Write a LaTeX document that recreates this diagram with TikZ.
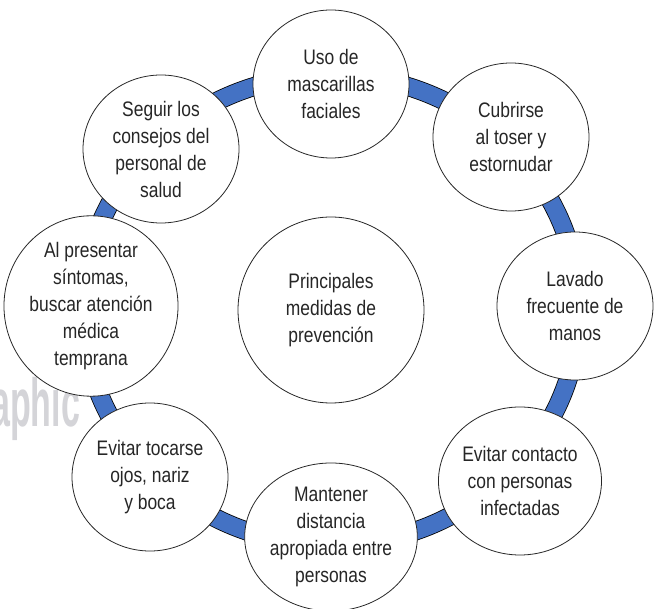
\documentclass[tikz,border=0pt]{standalone}
\usepackage{fontspec}
\setmainfont{Liberation Sans}[FakeStretch=0.83]
\newfontfamily\marcafont{Liberation Sans}[FakeStretch=0.5]
\usepackage{xcolor}
\usetikzlibrary{shapes.geometric}
\definecolor{anillo}{HTML}{4472C4}
\definecolor{texto}{HTML}{262626}
\definecolor{marca}{HTML}{D4D4D8}

\begin{document}
\begin{tikzpicture}[x=1pt,y=-1pt,
    medida/.style={ellipse,draw=texto,line width=0.8pt,fill=white,minimum width=156pt,minimum height=148pt,inner sep=0pt,align=center,text=texto,font=\fontsize{21}{27}\selectfont},
    centro/.style={circle,draw=texto,line width=0.8pt,fill=white,minimum size=186pt,inner sep=0pt,align=center,text=texto,font=\fontsize{21}{27}\selectfont}]
    \useasboundingbox (0,0) rectangle (654,609);
    \clip (0,0) rectangle (654,609);
    \node[anchor=base west,text=marca,font=\marcafont\bfseries\fontsize{68}{68}\selectfont,inner sep=0pt] (marca) at (-9,427) {aphic};
    % anillo
    \draw[line width=19pt,black] (331,310) ellipse [x radius=248pt,y radius=235pt];
    \draw[line width=17.4pt,anillo] (331,310) ellipse [x radius=248pt,y radius=235pt];
    % circulos
    \node[centro] (principal) at (331,310) {Principales\\medidas de\\prevención};
    \node[medida] (mascarillas) at (331,84) {Uso de\\mascarillas\\faciales};
    \node[medida] (toser) at (511,137) {Cubrirse\\al toser y\\estornudar};
    \node[medida] (manos) at (575,306) {Lavado\\frecuente de\\manos};
    \node[medida] (contacto) at (520,481) {Evitar contacto\\con personas\\infectadas};
    \node[medida] (distancia) at (331,537) {Mantener\\distancia\\apropiada entre\\personas};
    \node[medida] (tocarse) at (150,477) {Evitar tocarse\\ojos, nariz\\y boca};
    \node[medida] (sintomas) at (91,306) {Al presentar\\síntomas,\\buscar atención\\médica\\temprana};
    \node[medida] (consejos) at (161,149) {Seguir los\\consejos del\\personal de\\salud};
\end{tikzpicture}
\end{document}
